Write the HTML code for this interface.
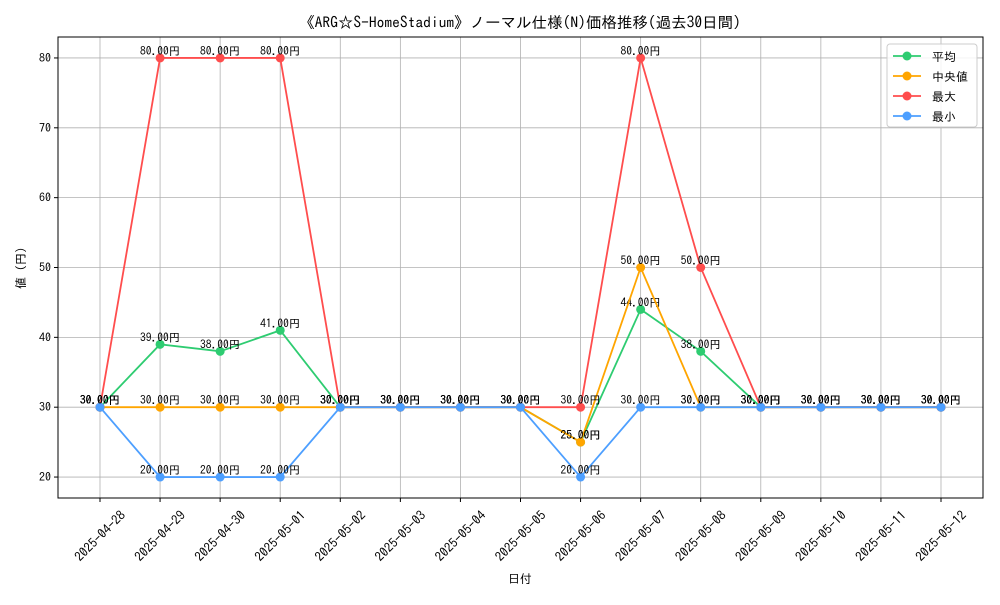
<!DOCTYPE html>
<html><head><meta charset="utf-8"><style>
body{margin:0;background:#fff}
svg text{font-family:"IPAGothic","Liberation Sans","Noto Sans CJK JP",sans-serif}
</style></head><body>
<svg id="chart" width="1000" height="600" xmlns="http://www.w3.org/2000/svg">
<rect width="1000" height="600" fill="#fff"/>
<text x="520" y="28" text-anchor="middle" font-size="15.5">《ARG☆S-HomeStadium》ノーマル仕様(N)価格推移(過去30日間)</text>
<g id="grid"></g><g id="axes"></g><g id="series"></g>
<rect x="58" y="37" width="925" height="461" fill="none" stroke="#000" stroke-width="1"/>
<text x="520" y="583" text-anchor="middle" font-size="12">日付</text>
<text transform="translate(25,268) rotate(-90)" text-anchor="middle" font-size="12">値 (円)</text>
<g id="legend"></g>
</svg>
<script>
const categories=["2025-04-28","2025-04-29","2025-04-30","2025-05-01","2025-05-02","2025-05-03","2025-05-04","2025-05-05","2025-05-06","2025-05-07","2025-05-08","2025-05-09","2025-05-10","2025-05-11","2025-05-12"];
const avgValues=[30,39,38,41,30,30,30,30,25,44,38,30,30,30,30];
const medianValues=[30,30,30,30,30,30,30,30,25,50,30,30,30,30,30];
const maxValues=[30,80,80,80,30,30,30,30,30,80,50,30,30,30,30];
const minValues=[30,20,20,20,30,30,30,30,20,30,30,30,30,30,30];
const yTicks=[20,30,40,50,60,70,80];
const seriesNames=["平均","中央値","最大","最小"];
const NS="http://www.w3.org/2000/svg";
const L=58,R=983,T=37,B=498,yMin=17,yMax=83;
const xs=i=>L+42+i*(R-L-84)/(categories.length-1);
const ys=v=>B-(v-yMin)/(yMax-yMin)*(B-T);
function mk(tag,attrs,parent){const e=document.createElementNS(NS,tag);for(const k in attrs)e.setAttribute(k,attrs[k]);parent.appendChild(e);return e;}
const grid=document.getElementById('grid'),axes=document.getElementById('axes'),ser=document.getElementById('series'),leg=document.getElementById('legend');
yTicks.forEach(v=>{const y=ys(v);
 const g=mk('line',{x1:L,x2:R,y1:y,y2:y,stroke:'#b0b0b0','stroke-width':0.8},grid);
 
 
 mk('line',{x1:L-4,x2:L,y1:y,y2:y,stroke:'#000'},axes);
 const t=mk('text',{x:L-7,y:y+4,'text-anchor':'end','font-size':12},axes);t.textContent=v;
 
 
});
categories.forEach((c,i)=>{const x=xs(i);
 const g=mk('line',{x1:x,x2:x,y1:T,y2:B,stroke:'#b0b0b0','stroke-width':0.8},grid);
 
 
 mk('line',{x1:x,x2:x,y1:B,y2:B+4,stroke:'#000'},axes);
 const cy=B+38;
 const t=mk('text',{x:x,y:cy+4.5,'text-anchor':'middle','font-size':13,transform:`rotate(-45 ${x} ${cy})`},axes);t.textContent=c;
 
 
});
const all=[avgValues,medianValues,maxValues,minValues];
const colors=["#2ecc71","#ffa500","#ff4d4d","#4d9fff"];
const keys=["avg","median","max","min"];
all.forEach((vals,s)=>{
 const g=mk('g',{},ser);
 
 
 const p=mk('polyline',{points:vals.map((v,i)=>xs(i)+','+ys(v)).join(' '),fill:'none',stroke:colors[s],'stroke-width':1.8},g);
 
 
 vals.forEach((v,i)=>{
  const c=mk('circle',{cx:xs(i),cy:ys(v),r:4.5,fill:colors[s]},g);
  
  
  const t=mk('text',{x:xs(i),y:ys(v)-3,'text-anchor':'middle','font-size':11.5},g);t.textContent=v.toFixed(2)+'円';
  
  
 });
});
mk('rect',{x:887,y:44,width:90,height:83,rx:3,fill:'#fff','fill-opacity':0.85,stroke:'#ccc'},leg);
seriesNames.forEach((n,s)=>{const y=56+s*20;
 const g=mk('g',{},leg);
 
 
 mk('line',{x1:893,x2:921,y1:y,y2:y,stroke:colors[s],'stroke-width':1.8},g);
 mk('circle',{cx:907,cy:y,r:4.5,fill:colors[s]},g);
 const t=mk('text',{x:932,y:y+5,'font-size':12},g);t.textContent=n;
});
</script>
</body></html>
